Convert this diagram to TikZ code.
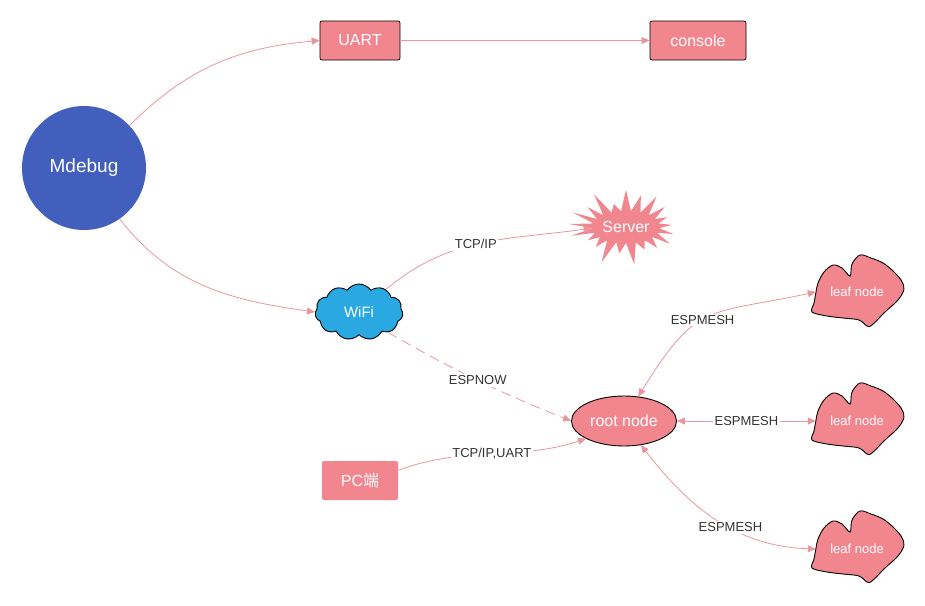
\documentclass[tikz,border=0pt]{standalone}
\usepackage{fontspec}
\setmainfont{Liberation Sans}
\newfontfamily\cjk{Noto Sans CJK SC}
\usetikzlibrary{shapes.geometric,shapes.symbols,arrows.meta,calc}
\definecolor{pinkfill}{HTML}{F2868F}
\definecolor{edgecol}{HTML}{E8979F}
\definecolor{mblue}{HTML}{435FBD}
\definecolor{wblue}{HTML}{2AA8E2}
\definecolor{labelgray}{HTML}{333333}
\tikzset{
  box/.style={rectangle, rounded corners=2pt, fill=pinkfill, draw=black, line width=0.7pt,
    minimum width=80pt, minimum height=39pt, text=white, font=\fontsize{16}{18}\selectfont},
  conn/.style={draw=edgecol, line width=0.8pt, -{Triangle[length=8pt,width=7pt]}},
  biconn/.style={draw=edgecol, line width=0.8pt, {Triangle[length=8pt,width=7pt]}-{Triangle[length=8pt,width=7pt]}},
  elabel/.style={fill=white, text=labelgray, font=\fontsize{13}{15}\selectfont, inner sep=1.5pt},
  leafnode/.style={rectangle, minimum width=82pt, minimum height=56pt, text=white, font=\fontsize{13}{15}\selectfont},
  leafshape/.style={fill=pinkfill, draw=black, line width=0.9pt},
}
\newcommand{\leafdraw}[1]{%
  \path[leafshape] plot[smooth cycle, tension=0.55] coordinates {
    ($(#1)+(-24,-27)$) ($(#1)+(-15,-24)$) ($(#1)+(-7,-16)$) ($(#1)+(-5,-28)$) ($(#1)+(3,-37)$)
    ($(#1)+(14,-34)$) ($(#1)+(26,-29)$) ($(#1)+(36,-21)$) ($(#1)+(44,-12)$) ($(#1)+(47,-3)$)
    ($(#1)+(41,8)$) ($(#1)+(28,20)$) ($(#1)+(15,33)$) ($(#1)+(10,34)$) ($(#1)+(2,28)$)
    ($(#1)+(-14,26)$) ($(#1)+(-30,24)$) ($(#1)+(-45,20)$) ($(#1)+(-43,11)$) ($(#1)+(-41,0)$)
    ($(#1)+(-39,-9)$) ($(#1)+(-33,-20)$)
  };}
\begin{document}
\begin{tikzpicture}[x=1pt,y=-1pt]
\useasboundingbox (0,0) rectangle (925,605);
\pgfmathsetseed{11}
% nodes
\node[circle, fill=mblue, minimum size=124pt, text=white, font=\fontsize{19}{21}\selectfont] (M) at (84,168) {Mdebug};
\node[box] (U) at (360,40.5) {UART};
\node[box, minimum width=96pt] (C) at (698,40.5) {console};
\node[starburst, fill=pinkfill, starburst points=21, starburst point height=24pt, random starburst=40,
  minimum width=104pt, minimum height=80pt, inner sep=0pt, text=white, font=\fontsize{16}{18}\selectfont] (S) at (626,227) {Server};
\node[cloud, cloud puffs=11, cloud puff arc=110, aspect=1.6, fill=wblue, draw=black, line width=0.9pt,
  minimum width=88pt, minimum height=56pt, inner sep=0pt, text=white, font=\fontsize{15}{17}\selectfont] (W) at (359,312) {WiFi};
\node[ellipse, fill=pinkfill, draw=black, line width=0.9pt, minimum width=104pt, minimum height=50pt,
  text=white, font=\fontsize{16}{18}\selectfont] (R) at (624,421) {root node};
\node[box, draw=none, minimum width=76pt] (P) at (360,480.5) {PC{\cjk 端}};
% leaf shapes
\leafdraw{857,292}
\leafdraw{857,420}
\leafdraw{857,548}
\node[leafnode] (L1) at (857,292) {leaf node};
\node[leafnode] (L2) at (857,421) {leaf node};
\node[leafnode] (L3) at (857,549) {leaf node};
% connectors
\draw[conn] (M.43) to[out=45,in=185] (U.west);
\draw[conn] (U.east) -- (C.west);
\draw[conn] (M.-55) to[out=-52,in=172] (W.west);
\draw[conn] (W.40) to[out=40,in=188] node[elabel,pos=0.47]{TCP/IP} (S.182);
\draw[conn, dash pattern=on 10pt off 6pt] (W.-35) to[out=-30,in=158] node[elabel,pos=0.5]{ESPNOW} (R.west);
\draw[conn] (P.15) to[out=20,in=198] node[elabel,pos=0.5]{TCP/IP,UART} (R.205);
\draw[biconn] (R.60) to[out=58,in=192,looseness=1.4] node[elabel,pos=0.46]{ESPMESH} (L1.west);
\draw[biconn] (R.east) -- node[elabel,pos=0.5]{ESPMESH} (L2.west);
\draw[biconn] (R.-55) to[out=-52,in=178] node[elabel,pos=0.58]{ESPMESH} (L3.west);
\end{tikzpicture}
\end{document}
